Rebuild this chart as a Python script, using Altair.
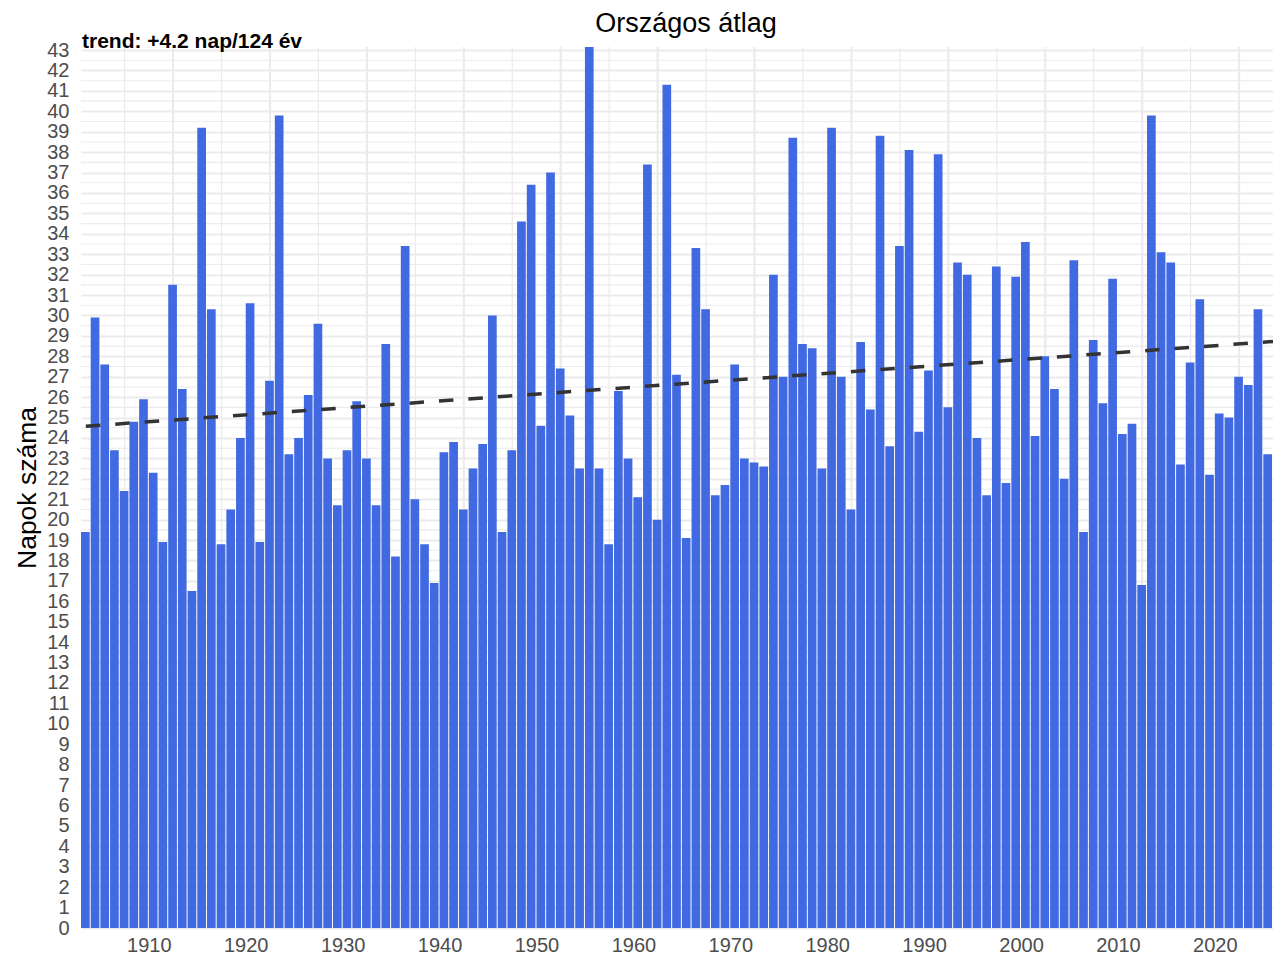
import altair as alt
import pandas as pd

# ---- data ----
first_year = 1903
days = [
    19.4, 29.9, 27.6, 23.4, 21.4, 24.8, 25.9, 22.3, 18.9, 31.5,
    26.4, 16.5, 39.2, 30.3, 18.8, 20.5, 24.0, 30.6, 18.9, 26.8,
    39.8, 23.2, 24.0, 26.1, 29.6, 23.0, 20.7, 23.4, 25.8, 23.0,
    20.7, 28.6, 18.2, 33.4, 21.0, 18.8, 16.9, 23.3, 23.8, 20.5,
    22.5, 23.7, 30.0, 19.4, 23.4, 34.6, 36.4, 24.6, 37.0, 27.4,
    25.1, 22.5, 43.15, 22.5, 18.8, 26.3, 23.0, 21.1, 37.4, 20.0,
    41.3, 27.1, 19.1, 33.3, 30.3, 21.2, 21.7, 27.6, 23.0, 22.8,
    22.6, 32.0, 27.0, 38.7, 28.6, 28.4, 22.5, 39.2, 27.0, 20.5,
    28.7, 25.4, 38.8, 23.6, 33.4, 38.1, 24.3, 27.3, 37.9, 25.5,
    32.6, 32.0, 24.0, 21.2, 32.4, 21.8, 31.9, 33.6, 24.1, 28.0,
    26.4, 22.0, 32.7, 19.4, 28.8, 25.7, 31.8, 24.2, 24.7, 16.8,
    39.8, 33.1, 32.6, 22.7, 27.7, 30.8, 22.2, 25.2, 25.0, 27.0,
    26.6, 30.3, 23.2,
]
years = list(range(first_year, first_year + len(days)))
x_tick_years = list(range(1910, 2030, 10))
y_ticks = list(range(0, 44))
trend_total = 4.2      # days over the period (from the label)
trend_years = 124
title_text = "Országos átlag"
y_title = "Napok száma"
trend_label = f"trend: +{trend_total} nap/{trend_years} év"

FONT = "Liberation Sans"
X_DOMAIN = [first_year, years[-1] + 1]
Y_DOMAIN = [0, 43.15]
W, H = 1192, 881

df = pd.DataFrame({"year": years, "days": days})

# trend line through the data mean with the stated slope
centers = [y + 0.5 for y in years]
x_mean = sum(centers) / len(centers)
y_mean = sum(days) / len(days)
slope = trend_total / trend_years
trend_x = [first_year + 0.5, years[-1] + 1]
trend_df = pd.DataFrame({
    "x": trend_x,
    "y": [y_mean + slope * (x - x_mean) for x in trend_x],
})

# grid positions derived from the tick arrays
grid_major_x = [t + 2.5 for t in x_tick_years]
grid_minor_x = [t - 2.5 for t in x_tick_years]
grid_minor_y = [t + 0.5 for t in y_ticks[:-1]]

xs = alt.Scale(domain=X_DOMAIN, nice=False, zero=False)
ys = alt.Scale(domain=Y_DOMAIN, nice=False, zero=True)

x_axis = alt.Axis(
    values=x_tick_years, format="d", grid=False, domain=False, ticks=False,
    tickSize=0, labelPadding=7, labelFontSize=20, labelColor="#4d4d4d",
    labelFont=FONT, title=None,
)
y_axis = alt.Axis(
    values=y_ticks, grid=True, gridColor="#ebebeb", gridWidth=2,
    domain=False, ticks=False, tickSize=0, labelPadding=12,
    labelFontSize=20, labelColor="#4d4d4d", labelFont=FONT,
    title=y_title, titleFont=FONT, titleFontSize=26.5, titleFontWeight="normal",
    titleColor="black", titleAngle=270, titleX=-46, titleY=H / 2,
    titleBaseline="alphabetic", titleAlign="center",
)

minor_v = alt.Chart(pd.DataFrame({"g": grid_minor_x})).mark_rule(
    color="#ebebeb", strokeWidth=1.2
).encode(x=alt.X("g:Q", scale=xs, axis=x_axis))

major_v = alt.Chart(pd.DataFrame({"g": grid_major_x})).mark_rule(
    color="#ebebeb", strokeWidth=2.2
).encode(x=alt.X("g:Q", scale=xs, axis=x_axis))

minor_h = alt.Chart(pd.DataFrame({"g": grid_minor_y})).mark_rule(
    color="#ebebeb", strokeWidth=1.1
).encode(y=alt.Y("g:Q", scale=ys, axis=y_axis))

bars = alt.Chart(df).transform_calculate(
    year_end="datum.year + 1"
).mark_rect(color="#4169E1", x2Offset=-1).encode(
    x=alt.X("year:Q", scale=xs, axis=x_axis),
    x2="year_end:Q",
    y=alt.Y("days:Q", scale=ys, axis=y_axis),
    y2=alt.datum(0),
)

trend = alt.Chart(trend_df).mark_line(
    color="#333333", strokeWidth=3.5, strokeDash=[14.5, 15]
).encode(
    x=alt.X("x:Q", scale=xs, axis=x_axis),
    y=alt.Y("y:Q", scale=ys, axis=y_axis),
)

trend_text = alt.Chart(pd.DataFrame({"t": [trend_label]})).mark_text(
    align="left", baseline="alphabetic", fontSize=21, fontWeight="bold",
    font=FONT, color="black",
).encode(x=alt.value(1), y=alt.value(1), text="t:N")

title_mark = alt.Chart(pd.DataFrame({"t": [title_text]})).mark_text(
    align="center", baseline="alphabetic", fontSize=27, fontWeight="normal",
    font=FONT, color="black",
).encode(x=alt.value(605), y=alt.value(-15), text="t:N")

chart = alt.layer(
    minor_v, major_v, minor_h, bars, trend, trend_text, title_mark
).properties(
    width=W, height=H,
    autosize=alt.AutoSizeParams(type="none"),
    padding={"left": 73, "top": 39, "right": 0, "bottom": 28},
).configure_view(stroke=None)

chart.save("out.html", embed_options={"renderer": "svg", "actions": False})
